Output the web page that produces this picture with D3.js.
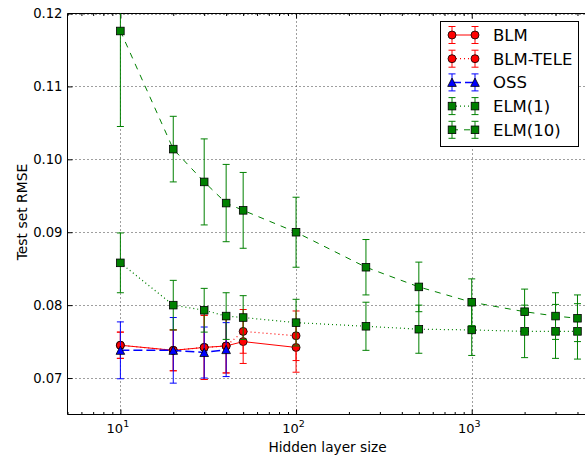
<!DOCTYPE html>
<html><head><meta charset="utf-8">
<script src="https://cdn.jsdelivr.net/npm/d3@7"></script>
<style>body{margin:0;background:#fff} text{font-family:"DejaVu Sans",sans-serif;fill:#000}</style>
</head><body><svg id="c" width="585" height="455"></svg>
<script>
// ---- data ----
const sizesBLM = [10, 20, 30, 40, 50, 100];
const blmMean = [0.0745, 0.0738, 0.0742, 0.0744, 0.0750, 0.0742];
const blmErr  = [0.0018, 0.0028, 0.0044, 0.0037, 0.0030, 0.0034];
const teleMean = [0.0745, 0.0738, 0.0742, 0.0744, 0.0764, 0.0758];
const teleErr  = [0.0018, 0.0028, 0.0044, 0.0037, 0.0030, 0.0034];
const sizesOSS = [10, 20, 30, 40];
const ossMean = [0.0738, 0.0738, 0.0735, 0.0739];
const ossErr  = [0.0039, 0.0045, 0.0035, 0.0037];
const sizesELM = [10, 20, 30, 40, 50, 100, 250, 500, 1000, 2000, 3000, 4000];
const elm1Mean = [0.0858, 0.0800, 0.0793, 0.0785, 0.0783, 0.0776, 0.0771, 0.0767, 0.0766, 0.0764, 0.0764, 0.0764];
const elm1Err  = [0.0041, 0.0034, 0.0030, 0.0032, 0.0030, 0.0032, 0.0033, 0.0033, 0.0035, 0.0036, 0.0037, 0.0038];
const elm10Mean = [0.1176, 0.1014, 0.0969, 0.0940, 0.0930, 0.0900, 0.0852, 0.0825, 0.0804, 0.0791, 0.0785, 0.0782];
const elm10Err  = [0.0131, 0.0045, 0.0059, 0.0053, 0.0052, 0.0048, 0.0038, 0.0034, 0.0032, 0.0031, 0.0032, 0.0032];
const seriesNames = ["BLM", "BLM-TELE", "OSS", "ELM(1)", "ELM(10)"];
const yTicks = [0.07, 0.08, 0.09, 0.10, 0.11, 0.12];
const xMajor = [10, 100, 1000];
const xLabel = "Hidden layer size";
const yLabel = "Test set RMSE";

// ---- styles ----
const styles = [
  {color: "#ff0000", dash: null, width: 1, marker: "circle"},
  {color: "#ff0000", dash: "1,3", width: 1.2, marker: "circle"},
  {color: "#0000ff", dash: "9,4", width: 1.5, marker: "triangle"},
  {color: "#008000", dash: "1,3", width: 1.2, marker: "square"},
  {color: "#008000", dash: "6,6", width: 1, marker: "square"}
];
const series = [
  {x: sizesBLM, m: blmMean, e: blmErr},
  {x: sizesBLM, m: teleMean, e: teleErr},
  {x: sizesOSS, m: ossMean, e: ossErr},
  {x: sizesELM, m: elm1Mean, e: elm1Err},
  {x: sizesELM, m: elm10Mean, e: elm10Err}
].map((s, i) => ({name: seriesNames[i], pts: s.x.map((v, j) => ({x: v, m: s.m[j], e: s.e[j]})), ...styles[i]}));

const svg = d3.select("#c");
const L = 67.5, R = 594.5, T = 13.5, B = 414.5;
const x = d3.scaleLog().domain([5, 5000]).range([L, R]);
const y = d3.scaleLinear().domain([0.065, 0.12]).range([B, T]);

svg.append("defs").append("clipPath").attr("id", "clip")
  .append("rect").attr("x", L).attr("y", T).attr("width", R - L).attr("height", B - T);

// grid
const grid = svg.append("g").attr("stroke", "#000").attr("stroke-dasharray", "1,3").attr("stroke-width", 1).attr("opacity", 0.75);
grid.selectAll(".gx").data(xMajor).join("line")
  .attr("x1", d => Math.round(x(d)) + 0.5).attr("x2", d => Math.round(x(d)) + 0.5).attr("y1", T).attr("y2", B);
grid.selectAll(".gy").data(yTicks).join("line")
  .attr("y1", d => Math.round(y(d)) + 0.5).attr("y2", d => Math.round(y(d)) + 0.5).attr("x1", L).attr("x2", R);

// axes (ticks inward)
const minor = [];
[1, 10, 100, 1000].forEach(b => { for (let k = 2; k <= 9; k++) { const v = b * k; if (v >= 5 && v <= 5000) minor.push(v); } });
const axB = svg.append("g").attr("transform", `translate(0,${B})`)
  .call(d3.axisBottom(x).tickValues(xMajor).tickSize(-5).tickFormat(""));
const axBm = svg.append("g").attr("transform", `translate(0,${B})`)
  .call(d3.axisBottom(x).tickValues(minor).tickSize(-2.5).tickFormat(""));
const axT = svg.append("g").attr("transform", `translate(0,${T})`)
  .call(d3.axisTop(x).tickValues(xMajor).tickSize(-5).tickFormat(""));
const axTm = svg.append("g").attr("transform", `translate(0,${T})`)
  .call(d3.axisTop(x).tickValues(minor).tickSize(-2.5).tickFormat(""));
const axL = svg.append("g").attr("transform", `translate(${L},0)`)
  .call(d3.axisLeft(y).tickValues(yTicks).tickSize(-5).tickPadding(5).tickFormat(d3.format(".2f")));
[axB, axBm, axT, axTm, axL].forEach(g => {
  g.select(".domain").remove();
  g.selectAll("line").attr("stroke", "#000");
});
axL.selectAll("text").attr("font-size", "13.2px").attr("fill", "#000");

// x tick labels 10^k
const xl = svg.append("g").selectAll("text").data(xMajor).join("text")
  .attr("x", d => x(d) - 13.8).attr("y", 432.5).attr("font-size", "13px");
xl.append("tspan").text("10");
xl.append("tspan").attr("dy", -5.5).attr("font-size", "9.5px").text(d => Math.round(Math.log10(d)));

// spines
svg.append("line").attr("x1", L).attr("x2", L).attr("y1", T).attr("y2", B).attr("stroke", "#000");
svg.append("line").attr("x1", L).attr("x2", R).attr("y1", B).attr("y2", B).attr("stroke", "#000");
svg.append("line").attr("x1", L).attr("x2", R).attr("y1", T).attr("y2", T).attr("stroke", "#000");
svg.append("line").attr("x1", R).attr("x2", R).attr("y1", T).attr("y2", B).attr("stroke", "#000");

// labels
svg.append("text").attr("x", 327.5).attr("y", 451.5).attr("text-anchor", "middle").attr("font-size", "13.7px").text(xLabel);
svg.append("text").attr("transform", "translate(26.7,212) rotate(-90)").attr("text-anchor", "middle").attr("font-size", "13.9px").text(yLabel);

// marker drawing
function marker(g, type, cx, cy, color) {
  if (type === "circle") {
    g.append("circle").attr("cx", cx).attr("cy", cy).attr("r", 4).attr("fill", color).attr("stroke", "#000").attr("stroke-width", 0.8);
  } else if (type === "square") {
    g.append("rect").attr("x", cx - 3.8).attr("y", cy - 3.8).attr("width", 7.6).attr("height", 7.6).attr("fill", color).attr("stroke", "#000").attr("stroke-width", 0.8);
  } else {
    g.append("path").attr("d", `M${cx},${cy - 4.3}L${cx + 4.3},${cy + 4}L${cx - 4.3},${cy + 4}Z`).attr("fill", color).attr("stroke", "#000").attr("stroke-width", 0.8);
  }
}
function errbar(g, cx, y1, y2, color) {
  g.append("line").attr("x1", cx).attr("x2", cx).attr("y1", y1).attr("y2", y2).attr("stroke", color);
  g.append("line").attr("x1", cx - 3.5).attr("x2", cx + 3.5).attr("y1", y1).attr("y2", y1).attr("stroke", color);
  g.append("line").attr("x1", cx - 3.5).attr("x2", cx + 3.5).attr("y1", y2).attr("y2", y2).attr("stroke", color);
}

const plot = svg.append("g").attr("clip-path", "url(#clip)");
const line = d3.line().x(d => x(d.x)).y(d => y(d.m));
series.forEach(s => {
  const g = plot.append("g");
  g.append("path").datum(s.pts).attr("d", line).attr("fill", "none").attr("stroke", s.color)
    .attr("stroke-width", s.width).attr("stroke-dasharray", s.dash);
  s.pts.forEach(p => errbar(g, x(p.x), y(p.m + p.e), y(p.m - p.e), s.color));
  s.pts.forEach(p => marker(g, s.marker, x(p.x), y(p.m), s.color));
});

// legend
const lg = svg.append("g");
lg.append("rect").attr("x", 440.5).attr("y", 21.5).attr("width", 138).attr("height", 125).attr("fill", "#fff").attr("stroke", "#000");
series.forEach((s, i) => {
  const cy = 35 + i * 23.7;
  const g = lg.append("g");
  g.append("line").attr("x1", 452).attr("x2", 475).attr("y1", cy).attr("y2", cy).attr("stroke", s.color)
    .attr("stroke-width", s.width).attr("stroke-dasharray", s.dash);
  [452, 475].forEach(cx => errbar(g, cx, cy - 8.5, cy + 8.5, s.color));
  [452, 475].forEach(cx => marker(g, s.marker, cx, cy, s.color));
  g.append("text").attr("x", 493).attr("y", cy + 6).attr("font-size", "16.5px").text(s.name);
});
</script></body></html>
